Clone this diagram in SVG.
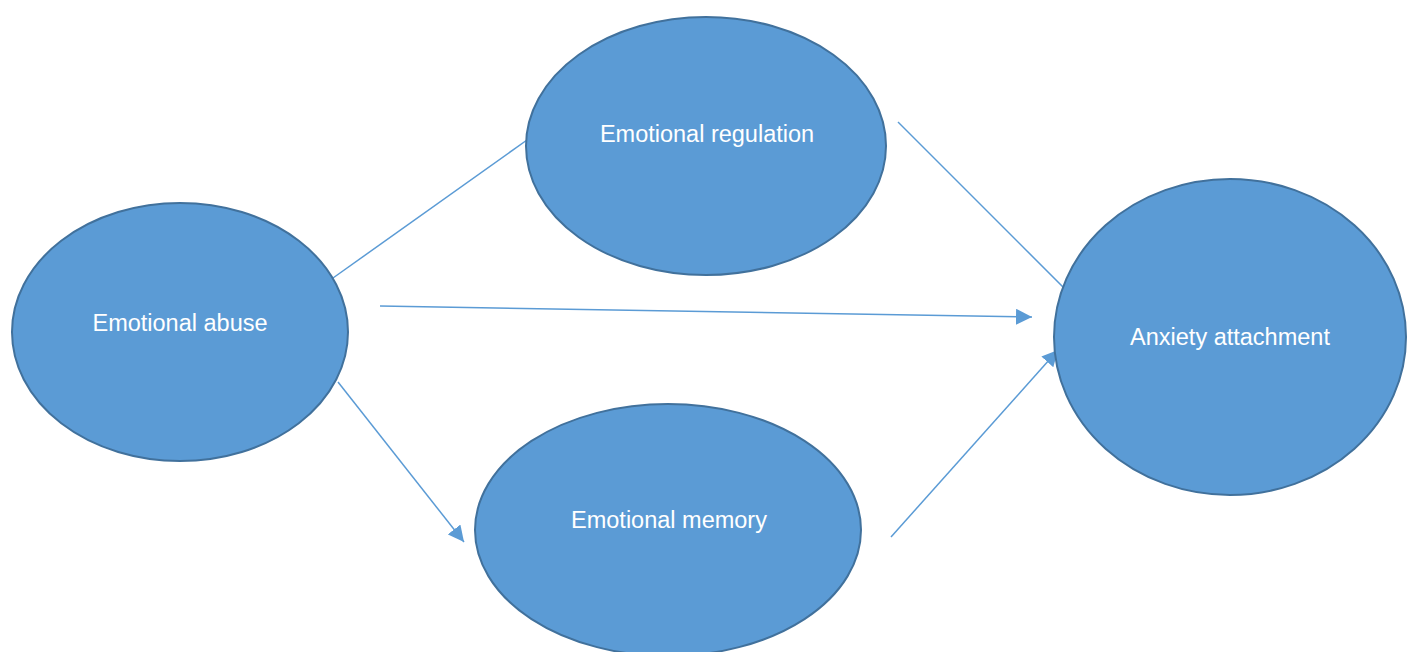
<svg xmlns="http://www.w3.org/2000/svg" width="1412" height="652" viewBox="0 0 1412 652">
<style>
.node ellipse{fill:#5B9BD5;stroke:#41719C;stroke-width:2}
.node text{fill:#fff;font-family:"Liberation Sans",Arial,sans-serif;font-size:23.5px;text-anchor:middle}
.edge{stroke:#5B9BD5;stroke-width:1.5;fill:none}
</style>
<defs>
<marker id="arrL" viewBox="0 0 10 10" refX="10" refY="5" markerWidth="16" markerHeight="16" markerUnits="userSpaceOnUse" orient="auto">
<path d="M0,0 L10,5 L0,10 z" fill="#5B9BD5"/>
</marker>
</defs>
<rect width="1412" height="652" fill="#fff"/>
<g id="connectors">
<line class="edge" x1="333" y1="278" x2="527" y2="140"/>
<line class="edge" x1="338" y1="382" x2="464" y2="542" marker-end="url(#arrL)"/>
<line class="edge" x1="380" y1="306" x2="1032" y2="317" marker-end="url(#arrL)"/>
<line class="edge" x1="898" y1="122" x2="1068" y2="292"/>
<line class="edge" x1="891" y1="537" x2="1058" y2="350" marker-end="url(#arrL)"/>
</g>
<g id="emotional-abuse" class="node">
<ellipse cx="180" cy="332" rx="168" ry="129"/>
<text x="180" y="331">Emotional abuse</text>
</g>
<g id="emotional-regulation" class="node">
<ellipse cx="706" cy="146" rx="180" ry="129"/>
<text x="707" y="142">Emotional regulation</text>
</g>
<g id="emotional-memory" class="node">
<ellipse cx="668" cy="530" rx="193" ry="126"/>
<text x="669" y="528">Emotional memory</text>
</g>
<g id="anxiety-attachment" class="node">
<ellipse cx="1230" cy="337" rx="176" ry="158"/>
<text x="1230" y="345">Anxiety attachment</text>
</g>
</svg>
